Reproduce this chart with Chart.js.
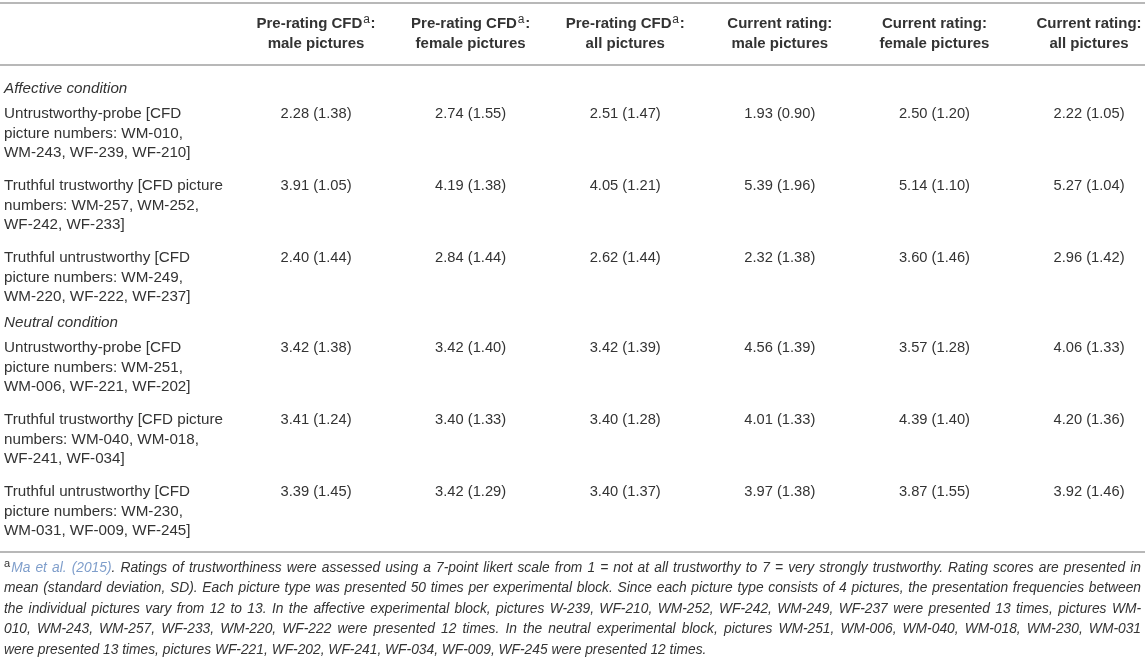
<!DOCTYPE html>
<html>
<head>
<meta charset="utf-8">
<script src="https://cdn.jsdelivr.net/npm/chart.js@4.4.1/dist/chart.umd.min.js"></script>
<style>
  body { margin: 0; background: #fff; }
  canvas { display: block; }
</style>
</head>
<body>
<canvas id="tabla" width="1145" height="658"></canvas>
<script>
// Cabeceras de columna (dos líneas) y si llevan superíndice "a"
const colHeads = [
    ['Pre-rating CFD', 'male pictures'],
    ['Pre-rating CFD', 'female pictures'],
    ['Pre-rating CFD', 'all pictures'],
    ['Current rating:', 'male pictures'],
    ['Current rating:', 'female pictures'],
    ['Current rating:', 'all pictures']
];
const colSup = [true, true, true, false, false, false];

// Grupos y filas
const groups = ['Affective condition', 'Neutral condition'];
const rowLabels = [
    ['Untrustworthy-probe [CFD', 'picture numbers: WM-010,', 'WM-243, WF-239, WF-210]'],
    ['Truthful trustworthy [CFD picture', 'numbers: WM-257, WM-252,', 'WF-242, WF-233]'],
    ['Truthful untrustworthy [CFD', 'picture numbers: WM-249,', 'WM-220, WF-222, WF-237]'],
    ['Untrustworthy-probe [CFD', 'picture numbers: WM-251,', 'WM-006, WF-221, WF-202]'],
    ['Truthful trustworthy [CFD picture', 'numbers: WM-040, WM-018,', 'WF-241, WF-034]'],
    ['Truthful untrustworthy [CFD', 'picture numbers: WM-230,', 'WM-031, WF-009, WF-245]']
];
const rowGroup = [0, 0, 0, 1, 1, 1];

// Medias y desviaciones (SD)
const preMaleMean   = [2.28, 3.91, 2.40, 3.42, 3.41, 3.39];
const preMaleSd     = [1.38, 1.05, 1.44, 1.38, 1.24, 1.45];
const preFemaleMean = [2.74, 4.19, 2.84, 3.42, 3.40, 3.42];
const preFemaleSd   = [1.55, 1.38, 1.44, 1.40, 1.33, 1.29];
const preAllMean    = [2.51, 4.05, 2.62, 3.42, 3.40, 3.40];
const preAllSd      = [1.47, 1.21, 1.44, 1.39, 1.28, 1.37];
const curMaleMean   = [1.93, 5.39, 2.32, 4.56, 4.01, 3.97];
const curMaleSd     = [0.90, 1.96, 1.38, 1.39, 1.33, 1.38];
const curFemaleMean = [2.50, 5.14, 3.60, 3.57, 4.39, 3.87];
const curFemaleSd   = [1.20, 1.10, 1.46, 1.28, 1.40, 1.55];
const curAllMean    = [2.22, 5.27, 2.96, 4.06, 4.20, 3.92];
const curAllSd      = [1.05, 1.04, 1.42, 1.33, 1.36, 1.46];

// Nota al pie: cada línea es una lista de segmentos [texto, estilo]
const footnoteLines = [
    [['a', 'sup'], ['Ma et al. (2015)', 'link'], ['. Ratings of trustworthiness were assessed using a 7-point likert scale from 1 = not at all trustworthy to 7 = very strongly trustworthy. Rating scores are presented in', 'it']],
    [['mean (standard deviation, SD). Each picture type was presented 50 times per experimental block. Since each picture type consists of 4 pictures, the presentation frequencies between', 'it']],
    [['the individual pictures vary from 12 to 13. In the affective experimental block, pictures W-239, WF-210, WM-252, WF-242, WM-249, WF-237 were presented 13 times, pictures WM-', 'it']],
    [['010, WM-243, WM-257, WF-233, WM-220, WF-222 were presented 12 times. In the neutral experimental block, pictures WM-251, WM-006, WM-040, WM-018, WM-230, WM-031', 'it']],
    [['were presented 13 times, pictures WF-221, WF-202, WF-241, WF-034, WF-009, WF-245 were presented 12 times.', 'it']]
];

const FONT = '"Liberation Sans", Arial, Helvetica, sans-serif';
const TEXT = '#333333';
const RULE = '#b8b8b8';
const LINK = '#7f9ecb';
const LINE_H = 19.5;

const means = [preMaleMean, preFemaleMean, preAllMean, curMaleMean, curFemaleMean, curAllMean];
const sds = [preMaleSd, preFemaleSd, preAllSd, curMaleSd, curFemaleSd, curAllSd];

// Posiciones verticales (en unidades de la escala y)
const headY = [24, 44];
const groupY = [];
const rowY = [];
let y = 89;
groups.forEach((g, gi) => {
    groupY.push(y);
    y += 25;
    rowLabels.forEach((r, ri) => {
        if (rowGroup[ri] !== gi) return;
        rowY.push(y);
        y += 72;
    });
    y -= 7;
});
const rules = [3, 65, y - 5];
const footY = y + 11;
const FOOT_H = 20.5;

const LABEL_X = -1.018;

// Datasets invisibles: sólo sirven para situar cada celda con las escalas
const datasets = [];
datasets.push({
    label: 'rows',
    data: rowY.map(v => ({ x: LABEL_X, y: v })),
    pointRadius: 0
});
means.forEach((m, ci) => {
    datasets.push({
        label: 'col' + ci,
        data: m.map((v, ri) => ({ x: ci + 1, y: rowY[ri], txt: v.toFixed(2) + ' (' + sds[ci][ri].toFixed(2) + ')' })),
        pointRadius: 0
    });
});

function wordsOf(segs) {
    const words = [];
    let cur = null;
    segs.forEach(([t, s]) => {
        t.split(' ').forEach((p, i) => {
            if (i > 0) cur = null;
            if (p === '') return;
            if (!cur) { cur = []; words.push(cur); }
            cur.push({ t: p, s: s });
        });
    });
    return words;
}

function fontFor(s) {
    if (s === 'sup') return '11px ' + FONT;
    return 'italic 13.8px ' + FONT;
}

const tablaPlugin = {
    id: 'tabla',
    afterDraw(chart) {
        const ctx = chart.ctx;
        const xs = chart.scales.x;
        const ys = chart.scales.y;
        const left = chart.chartArea.left;
        const right = chart.chartArea.right;
        ctx.save();

        // reglas horizontales
        ctx.strokeStyle = RULE;
        ctx.lineWidth = 2;
        rules.forEach(r => {
            const py = ys.getPixelForValue(r);
            ctx.beginPath();
            ctx.moveTo(left, py);
            ctx.lineTo(right, py);
            ctx.stroke();
        });

        ctx.fillStyle = TEXT;
        ctx.textBaseline = 'middle';

        // cabeceras
        const boldF = 'bold 15px ' + FONT;
        const supF = '12px ' + FONT;
        colHeads.forEach((h, ci) => {
            const cx = xs.getPixelForValue(ci + 1);
            ctx.font = boldF;
            let w1 = ctx.measureText(h[0]).width;
            let supW = 0, colonW = 0;
            if (colSup[ci]) {
                ctx.font = supF;
                supW = ctx.measureText('a').width + 1.5;
                ctx.font = boldF;
                colonW = ctx.measureText(':').width;
            }
            const total = w1 + supW + colonW;
            let px = cx - total / 2;
            const py1 = ys.getPixelForValue(headY[0]);
            ctx.textAlign = 'left';
            ctx.fillText(h[0], px, py1);
            if (colSup[ci]) {
                ctx.font = supF;
                ctx.fillText('a', px + w1 + 0.8, py1 - 4);
                ctx.font = boldF;
                ctx.fillText(':', px + w1 + supW, py1);
            }
            ctx.textAlign = 'center';
            ctx.fillText(h[1], cx, ys.getPixelForValue(headY[1]));
        });

        // grupos
        ctx.textAlign = 'left';
        ctx.font = 'italic 15.2px ' + FONT;
        groups.forEach((g, gi) => {
            ctx.fillText(g, xs.getPixelForValue(LABEL_X), ys.getPixelForValue(groupY[gi]));
        });

        // etiquetas de fila
        ctx.font = '15.2px ' + FONT;
        chart.getDatasetMeta(0).data.forEach((el, ri) => {
            rowLabels[ri].forEach((ln, li) => {
                ctx.fillText(ln, el.x, el.y + li * LINE_H);
            });
        });

        // valores
        ctx.font = '14.7px ' + FONT;
        ctx.textAlign = 'center';
        for (let d = 1; d < chart.data.datasets.length; d++) {
            const ds = chart.data.datasets[d];
            chart.getDatasetMeta(d).data.forEach((el, ri) => {
                ctx.fillText(ds.data[ri].txt, el.x, el.y);
            });
        }

        // nota al pie (justificada salvo la última línea)
        ctx.textAlign = 'left';
        const fx0 = xs.getPixelForValue(LABEL_X);
        const fx1 = right - 4;
        footnoteLines.forEach((segs, li) => {
            const py = ys.getPixelForValue(footY + li * FOOT_H);
            const words = wordsOf(segs);
            ctx.font = fontFor('it');
            const sp = ctx.measureText(' ').width;
            const widths = words.map(w => w.reduce((acc, p) => {
                ctx.font = fontFor(p.s);
                return acc + ctx.measureText(p.t).width + (p.s === 'sup' ? 1 : 0);
            }, 0));
            const natural = widths.reduce((a, b) => a + b, 0);
            let gap = sp;
            if (li < footnoteLines.length - 1 && words.length > 1) {
                gap = (fx1 - fx0 - natural) / (words.length - 1);
            }
            let px = fx0;
            words.forEach((w) => {
                w.forEach(p => {
                    ctx.font = fontFor(p.s);
                    if (p.s === 'sup') {
                        ctx.fillStyle = TEXT;
                        ctx.fillText(p.t, px, py - 4);
                        px += ctx.measureText(p.t).width + 1;
                    } else {
                        ctx.fillStyle = p.s === 'link' ? LINK : TEXT;
                        ctx.fillText(p.t, px, py);
                        px += ctx.measureText(p.t).width;
                    }
                });
                px += gap;
            });
        });
        ctx.restore();
    }
};

new Chart(document.getElementById('tabla'), {
    type: 'scatter',
    data: { datasets: datasets },
    options: {
        responsive: false,
        animation: false,
        events: [],
        layout: { padding: 0 },
        scales: {
            x: { type: 'linear', display: false, min: -1.044, max: 6.362 },
            y: { type: 'linear', display: false, min: 0, max: 658, reverse: true }
        },
        plugins: {
            legend: { display: false },
            tooltip: { enabled: false }
        }
    },
    plugins: [tablaPlugin]
});
</script>
</body>
</html>
